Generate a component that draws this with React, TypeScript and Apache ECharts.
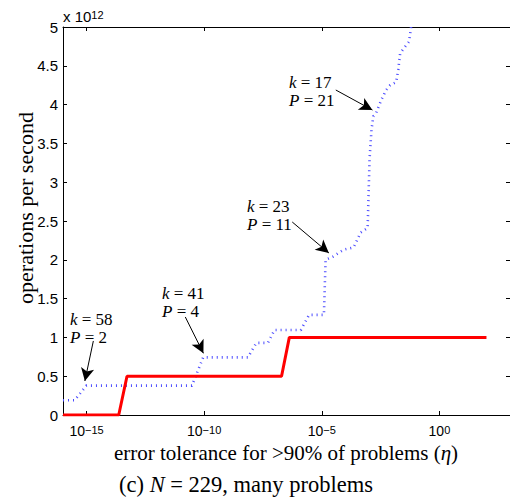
import React, { useEffect, useRef } from 'react';
import * as echarts from 'echarts';

// ---- data ----
const xTickExponents = [-15, -10, -5, 0];
const yTickValues = [0, 0.5, 1, 1.5, 2, 2.5, 3, 3.5, 4, 4.5, 5];

const redEta = [1e-16, 2.34e-14, 5.25e-14, 1.95e-7, 4.17e-7, 1e2];
const redOps = [0, 0, 0.5, 0.5, 1, 1];

const blueEta = [
  1e-16, 3.16e-16, 9.8e-16, 3.02e-11, 9.1e-11, 7.24e-9, 1.66e-8, 5.13e-8, 9.77e-8, 1.29e-6,
  2.88e-6, 1.23e-5, 1.45e-5, 2.95e-5, 8.5e-5, 2.24e-4, 4.47e-4, 8.9e-4, 9.6e-4, 1.07e-3,
  1.29e-3, 1.55e-3, 1.9e-3, 3.39e-3, 5.5e-3, 8.1e-3, 1.45e-2, 1.78e-2, 2.14e-2, 3.16e-2,
  5.1e-2, 6.2e-2, 6.8e-2,
];
const blueOps = [
  0.19, 0.19, 0.378, 0.378, 0.743, 0.743, 0.93, 0.93, 1.095, 1.095,
  1.29, 1.29, 2.0, 2.04, 2.13, 2.16, 2.35, 2.41, 2.77, 3.29,
  3.67, 3.85, 3.87, 4.06, 4.19, 4.25, 4.29, 4.45, 4.66, 4.73,
  4.81, 4.99, 5.09,
];

const annK = [58, 41, 23, 17];
const annP = [2, 4, 11, 21];
const annFromEta = [1.95e-15, 1.58e-11, 5.55e-7, 3.94e-5];
const annFromOps = [0.954, 1.263, 2.487, 4.188];
const annToEta = [8.5e-16, 9.3e-11, 2.0e-5, 1.42e-3];
const annToOps = [0.438, 0.795, 2.088, 3.93];

// ---- layout (pixels) ----
const annTextPos = [
  [70, 310],
  [162, 284],
  [247, 197],
  [289, 73],
];

const SERIF = "'Liberation Serif', 'Times New Roman', serif";
const SANS = "'Liberation Sans', Arial, Helvetica, sans-serif";

function xLabel(v: number): string {
  const e = Math.log10(v);
  const r = Math.round(e);
  if (Math.abs(e - r) > 1e-6 || !xTickExponents.includes(r)) return '';
  const s = r < 0 ? '\u2212' + String(-r) : String(r);
  return `{b|10}{s|${s}}`;
}

export default function App() {
  const ref = useRef<HTMLDivElement>(null);
  useEffect(() => {
    document.body.style.margin = '0';
    document.body.style.overflow = 'hidden';
    const chart = echarts.init(ref.current!, undefined, { renderer: 'svg' });

    const xCommon = {
      type: 'log' as const,
      logBase: 100000,
      min: 1e-16,
      max: 1e3,
      splitNumber: 5,
      splitLine: { show: false },
      minorTick: { show: false },
      axisLine: { show: true, onZero: false, lineStyle: { color: '#000', width: 1 } },
      axisTick: { show: true, inside: true, length: 4, lineStyle: { color: '#000' } },
    };
    const yCommon = {
      type: 'value' as const,
      min: yTickValues[0],
      max: yTickValues[yTickValues.length - 1],
      interval: 0.5,
      splitLine: { show: false },
      axisLine: { show: true, onZero: false, lineStyle: { color: '#000', width: 1 } },
      axisTick: { show: true, inside: true, length: 4, lineStyle: { color: '#000' } },
    };

    const arrows = annK.map((_, i) => [
      { coord: [annFromEta[i], annFromOps[i]] },
      { coord: [annToEta[i], annToOps[i]] },
    ]);

    const annGraphics = annK.map((k, i) => ({
      type: 'text',
      x: annTextPos[i][0],
      y: annTextPos[i][1],
      style: {
        text: `{i|k} = ${k}\n{i|P} = ${annP[i]}`,
        fontFamily: SERIF,
        fontSize: 17,
        lineHeight: 18,
        fill: '#000',
        align: 'left',
        verticalAlign: 'top',
        rich: {
          i: { fontFamily: SERIF, fontSize: 17, fontStyle: 'italic', lineHeight: 18 },
        },
      },
    }));

    chart.setOption({
      animation: false,
      backgroundColor: '#fff',
      grid: { left: 63, top: 27, width: 450, height: 388, containLabel: false },
      xAxis: [
        {
          ...xCommon,
          position: 'bottom',
          axisLabel: {
            show: true,
            margin: 9,
            showMinLabel: false,
            showMaxLabel: false,
            formatter: xLabel,
            color: '#000',
            rich: {
              b: { fontFamily: SANS, fontSize: 14, lineHeight: 14, padding: [3, 0, 0, 0], verticalAlign: 'bottom', color: '#000' },
              s: { fontFamily: SANS, fontSize: 11, lineHeight: 11, verticalAlign: 'top', color: '#000' },
            },
          },
        },
        { ...xCommon, position: 'top', axisLabel: { show: false } },
      ],
      yAxis: [
        {
          ...yCommon,
          position: 'left',
          axisLabel: {
            show: true,
            margin: 5,
            color: '#000',
            fontFamily: SANS,
            fontSize: 15,
            formatter: (v: number) => String(v),
          },
        },
        { ...yCommon, position: 'right', axisLabel: { show: false } },
      ],
      series: [
        {
          type: 'line',
          name: 'blue',
          xAxisIndex: 0,
          yAxisIndex: 0,
          data: blueEta.map((x, i) => [x, blueOps[i]]),
          showSymbol: false,
          clip: true,
          lineStyle: { color: '#4a4aff', width: 2.6, type: [1, 4], cap: 'butt' },
          z: 2,
        },
        {
          type: 'line',
          name: 'red',
          xAxisIndex: 0,
          yAxisIndex: 0,
          data: redEta.map((x, i) => [x, redOps[i]]),
          showSymbol: false,
          clip: true,
          lineStyle: { color: '#ff0000', width: 3 },
          z: 3,
        },
        {
          type: 'line',
          name: 'annotations',
          xAxisIndex: 0,
          yAxisIndex: 0,
          data: [],
          z: 4,
          markLine: {
            silent: true,
            symbol: ['none', 'arrow'],
            symbolSize: [10, 13],
            label: { show: false },
            lineStyle: { color: '#000', width: 1, type: 'solid' },
            emphasis: { disabled: true },
            data: arrows,
          },
        },
      ],
      graphic: [
        {
          type: 'text',
          x: 63,
          y: 24,
          style: {
            text: 'x 10{s|12}',
            fontFamily: SANS,
            fontSize: 15,
            fill: '#000',
            align: 'left',
            verticalAlign: 'bottom',
            rich: { s: { fontFamily: SANS, fontSize: 11, verticalAlign: 'top', lineHeight: 11 } },
          },
        },
        {
          type: 'text',
          x: 25,
          y: 208,
          rotation: Math.PI / 2,
          style: {
            text: 'operations per second',
            fontFamily: SERIF,
            fontSize: 22,
            fill: '#000',
            align: 'center',
            verticalAlign: 'middle',
          },
        },
        {
          type: 'text',
          x: 286,
          y: 453,
          style: {
            text: 'error tolerance for >90% of problems ({i|\u03b7})',
            fontFamily: SERIF,
            fontSize: 21,
            fill: '#000',
            align: 'center',
            verticalAlign: 'middle',
            rich: { i: { fontFamily: SERIF, fontSize: 21, fontStyle: 'italic' } },
          },
        },
        {
          type: 'text',
          x: 246,
          y: 484,
          style: {
            text: '(c) {i|N} = 229, many problems',
            fontFamily: SERIF,
            fontSize: 22.5,
            fill: '#000',
            align: 'center',
            verticalAlign: 'middle',
            rich: { i: { fontFamily: SERIF, fontSize: 22.5, fontStyle: 'italic' } },
          },
        },
        ...annGraphics,
      ],
    });
    return () => chart.dispose();
  }, []);
  return <div ref={ref} style={{ width: 510, height: 497 }} />;
}
